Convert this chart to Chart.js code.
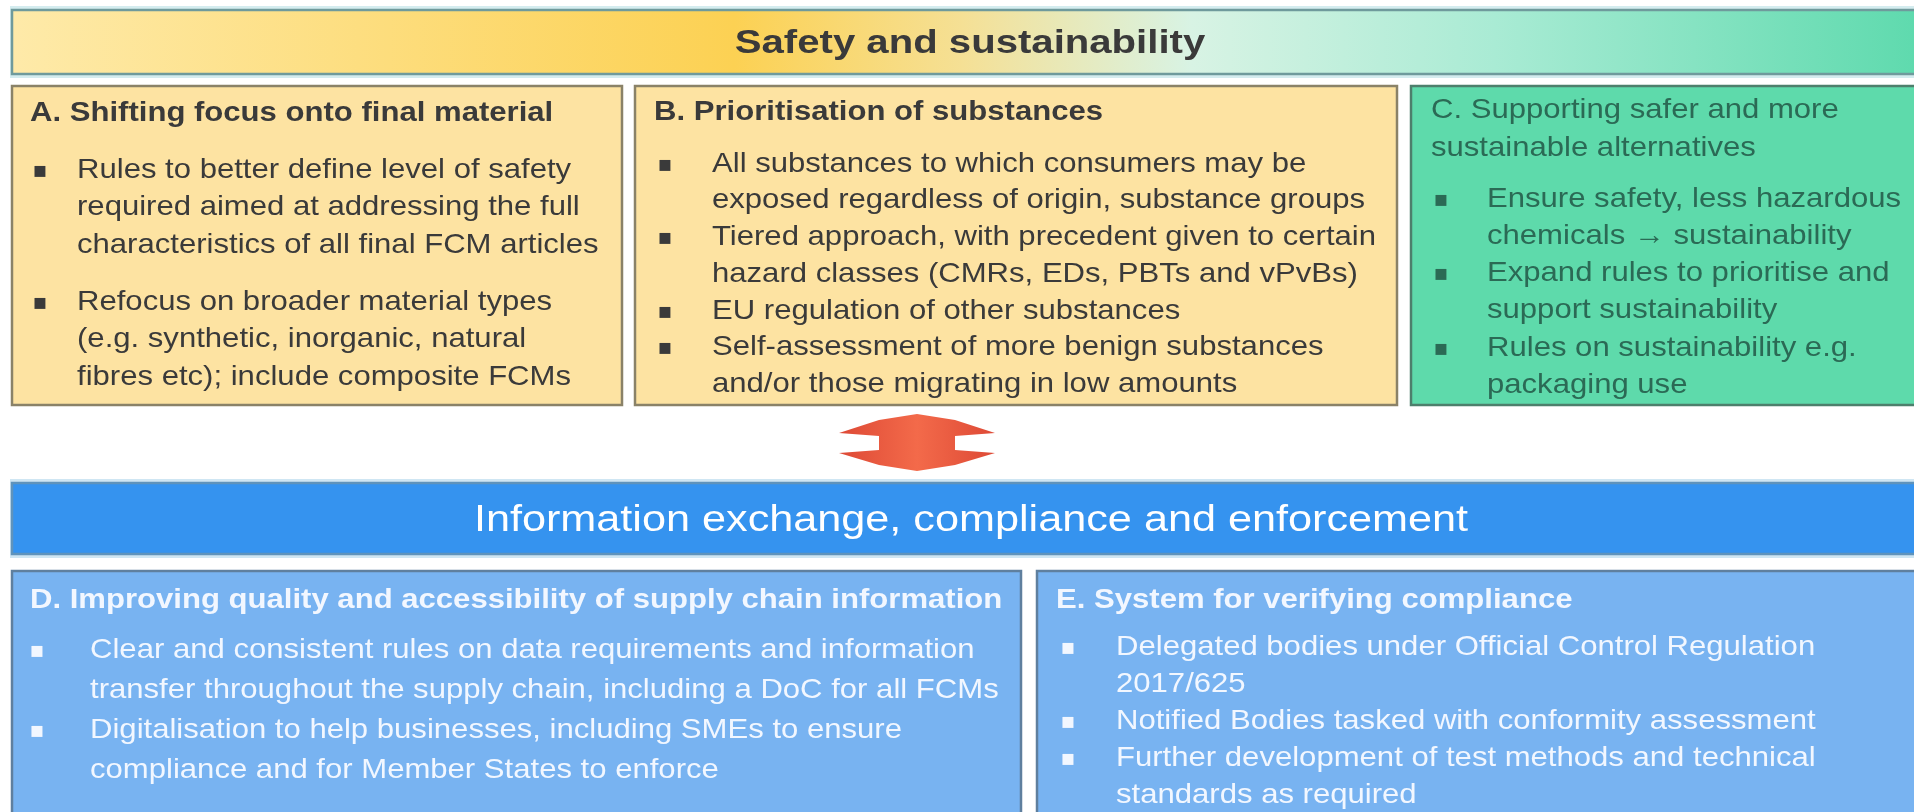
<!DOCTYPE html>
<html>
<head>
<meta charset="utf-8">
<script src="https://cdn.jsdelivr.net/npm/chart.js@4.4.1/dist/chart.umd.min.js"></script>
<style>
  html, body { margin: 0; padding: 0; background: #fff; overflow: hidden; }
  #wrap { width: 1914px; height: 812px; position: relative; }
</style>
</head>
<body>
<div id="wrap"><canvas id="diagram"></canvas></div>
<script>
// texts of the diagram
const bannerTitles = ['Safety and sustainability', 'Information exchange, compliance and enforcement'];
const boxTitles = [
  ['A. Shifting focus onto final material'],
  ['B. Prioritisation of substances'],
  ['C. Supporting safer and more', 'sustainable alternatives'],
  ['D. Improving quality and accessibility of supply chain information'],
  ['E. System for verifying compliance']
];
const bulletsA = [
  ['Rules to better define level of safety', 'required aimed at addressing the full', 'characteristics of all final FCM articles'],
  ['Refocus on broader material types', '(e.g. synthetic, inorganic, natural', 'fibres etc); include composite FCMs']
];
const bulletsB = [
  ['All substances to which consumers may be', 'exposed regardless of origin, substance groups'],
  ['Tiered approach, with precedent given to certain', 'hazard classes (CMRs, EDs, PBTs and vPvBs)'],
  ['EU regulation of other substances'],
  ['Self-assessment of more benign substances', 'and/or those migrating in low amounts']
];
const bulletsC = [
  ['Ensure safety, less hazardous', 'chemicals \u2192 sustainability'],
  ['Expand rules to prioritise and', 'support sustainability'],
  ['Rules on sustainability e.g.', 'packaging use']
];
const bulletsD = [
  ['Clear and consistent rules on data requirements and information', 'transfer throughout the supply chain, including a DoC for all FCMs'],
  ['Digitalisation to help businesses, including SMEs to ensure', 'compliance and for Member States to enforce']
];
const bulletsE = [
  ['Delegated bodies under Official Control Regulation', '2017/625'],
  ['Notified Bodies tasked with conformity assessment'],
  ['Further development of test methods and technical', 'standards as required']
];
const allBullets = [bulletsA, bulletsB, bulletsC, bulletsD, bulletsE];

// layout of the boxes (in axis units = pixels)
const boxes = [
  { x0: 12, y0: 86, x1: 622, y1: 405, fill: '#fde3a2', stroke: '#8a8268', color: '#3a3a3a', tx: 30, ty: 113, tlh: 38, bold: true,
    bx: 40, lx: 77, ly: 170, lh: 37.5, gap: 19.5 },
  { x0: 635, y0: 86, x1: 1397, y1: 405, fill: '#fde3a2', stroke: '#8a8268', color: '#3a3a3a', tx: 654, ty: 112, tlh: 38, bold: true,
    bx: 665, lx: 712, ly: 164, lh: 36.7, gap: 0 },
  { x0: 1411, y0: 86, x1: 1930, y1: 405, fill: '#5edaab', stroke: '#4d7f6c', color: '#2b6a55', tx: 1431, ty: 110, tlh: 38, bold: false,
    bx: 1441, lx: 1487, ly: 199, lh: 37.2, gap: 0 },
  { x0: 12, y0: 571, x1: 1021, y1: 830, fill: '#78b3f1', stroke: '#5f7f9e', color: '#f2f7ff', tx: 30, ty: 600, tlh: 38, bold: true,
    bx: 37, lx: 90, ly: 650, lh: 40, gap: 0 },
  { x0: 1037, y0: 571, x1: 1930, y1: 830, fill: '#78b3f1', stroke: '#5f7f9e', color: '#f2f7ff', tx: 1056, ty: 600, tlh: 38, bold: true,
    bx: 1068, lx: 1116, ly: 647, lh: 37, gap: 0 }
];

const FONT = '"Liberation Sans", Arial, sans-serif';
const SX = 1.11;

const diagramPlugin = {
  id: 'diagram',
  afterDraw(chart) {
    const ctx = chart.ctx;
    const xs = chart.scales.x, ys = chart.scales.y;
    const px = v => xs.getPixelForValue(v);
    const py = v => ys.getPixelForValue(v);

    function rect(x0, y0, x1, y1, fill, stroke, lw) {
      ctx.save();
      ctx.fillStyle = fill;
      ctx.fillRect(px(x0), py(y0), px(x1) - px(x0), py(y1) - py(y0));
      if (stroke) {
        ctx.strokeStyle = stroke;
        ctx.lineWidth = lw || 2;
        ctx.strokeRect(px(x0), py(y0), px(x1) - px(x0), py(y1) - py(y0));
      }
      ctx.restore();
    }
    function text(str, x, y, font, color, align, sx) {
      ctx.save();
      ctx.translate(px(x), py(y));
      ctx.scale(sx, 1);
      ctx.font = font;
      ctx.fillStyle = color;
      ctx.textAlign = align;
      ctx.textBaseline = 'middle';
      ctx.fillText(str, 0, 0);
      ctx.restore();
    }

    // top banner
    let g = ctx.createLinearGradient(px(12), 0, px(1914), 0);
    g.addColorStop(0, '#feeaa9');
    g.addColorStop(0.38, '#fcd153');
    g.addColorStop(0.5, '#f5e095');
    g.addColorStop(0.62, '#d8f3e4');
    g.addColorStop(0.78, '#a9ebd4');
    g.addColorStop(1, '#5fdaae');
    rect(10, 6, 1930, 78, '#d4ecef');
    rect(12, 10, 1930, 74, g, '#6f9a9c', 2.5);
    text(bannerTitles[0], 970, 44, 'bold 34px ' + FONT, '#3a3a3a', 'center', 1.18);

    // boxes with titles and bullets
    boxes.forEach((b, i) => {
      rect(b.x0, b.y0, b.x1, b.y1, b.fill, b.stroke, 2.5);
      boxTitles[i].forEach((t, k) => {
        text(t, b.tx, b.ty + k * b.tlh, (b.bold ? 'bold ' : '') + '28px ' + FONT, b.color, 'left', SX);
      });
      let y = b.ly;
      allBullets[i].forEach(item => {
        text('\u25AA', b.bx, y + 1, '22px "DejaVu Sans"', b.color, 'center', 1);
        item.forEach(line => {
          text(line, b.lx, y, '28px ' + FONT, b.color, 'left', SX);
          y += b.lh;
        });
        y += b.gap;
      });
      if (i === 2) {
        // arrow between the two rows
        const ag = ctx.createLinearGradient(px(840), 0, px(994), 0);
        ag.addColorStop(0, '#de4a36');
        ag.addColorStop(0.5, '#f36a4a');
        ag.addColorStop(1, '#de4a36');
        const pts = [[917, 414], [955, 420], [995, 433], [955, 436], [955, 450], [995, 453], [955, 465], [917, 471],
                     [879, 465], [839, 453], [879, 450], [879, 436], [839, 433], [879, 420]];
        ctx.save();
        ctx.beginPath();
        pts.forEach((p, k) => k ? ctx.lineTo(px(p[0]), py(p[1])) : ctx.moveTo(px(p[0]), py(p[1])));
        ctx.closePath();
        ctx.fillStyle = ag;
        ctx.fill();
        ctx.restore();

        // blue banner
        rect(10, 479, 1930, 558, '#cfe6f3');
        rect(12, 483, 1930, 554, '#3593ef', '#5f93bb', 2.5);
        text(bannerTitles[1], 971, 521, '36px ' + FONT, '#ffffff', 'center', 1.2);
      }
    });
  }
};

new Chart(document.getElementById('diagram'), {
  type: 'scatter',
  data: { datasets: [{ data: [] }] },
  options: {
    responsive: true,
    maintainAspectRatio: false,
    animation: false,
    layout: { padding: 0 },
    plugins: { legend: { display: false }, tooltip: { enabled: false } },
    scales: {
      x: { type: 'linear', min: 0, max: 1914, display: false },
      y: { type: 'linear', min: 0, max: 812, reverse: true, display: false }
    }
  },
  plugins: [diagramPlugin]
});
</script>
</body>
</html>
